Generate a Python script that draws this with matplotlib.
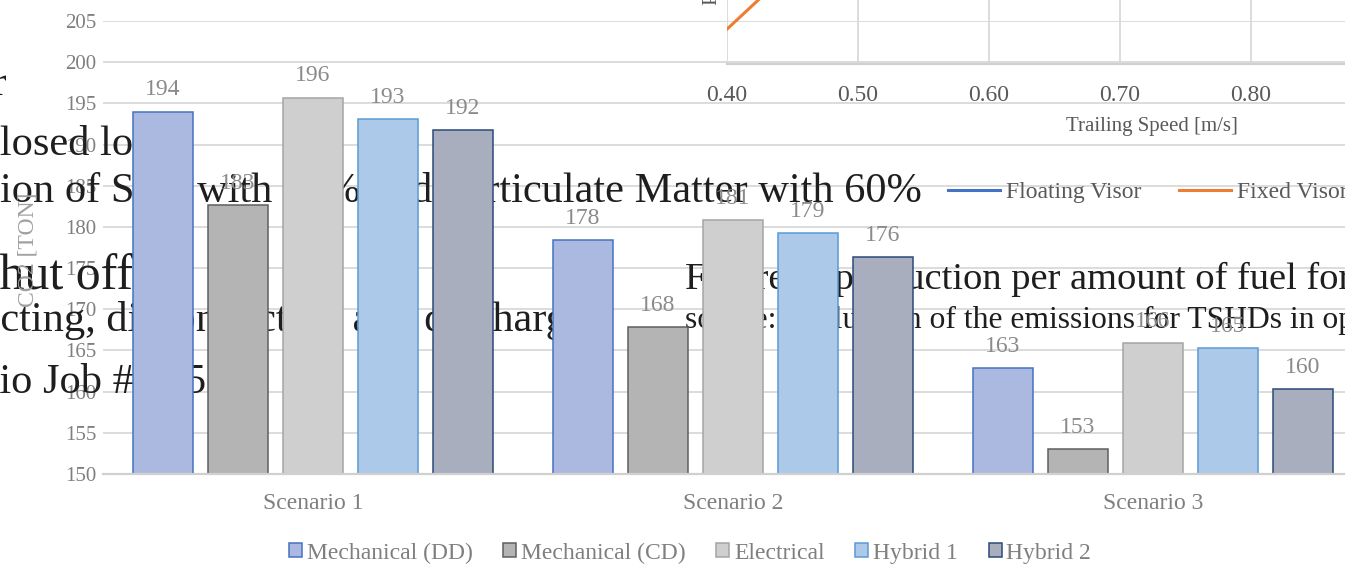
import matplotlib
matplotlib.use("Agg")
import matplotlib.pyplot as plt
from matplotlib.lines import Line2D

plt.rcParams['font.family'] = ['Liberation Serif', 'DejaVu Serif']

# ---- data -------------------------------------------------------------
categories = ['Scenario 1', 'Scenario 2', 'Scenario 3']
series_names = ['Mechanical (DD)', 'Mechanical (CD)', 'Electrical',
                'Hybrid 1', 'Hybrid 2']
mech_dd = [194.0, 178.4, 162.9]
mech_cd = [182.6, 167.8, 153.0]
electrical = [195.7, 180.8, 165.9]
hybrid_1 = [193.1, 179.3, 165.3]
hybrid_2 = [191.8, 176.3, 160.3]
yticks = [150, 155, 160, 165, 170, 175, 180, 185, 190, 195, 200, 205]

# trailing-speed chart (only its lower-left corner is in frame)
speed_ticks = [0.40, 0.50, 0.60, 0.70, 0.80]
fixed_speed = [0.40, 0.50]
fixed_prod = [0.81, 3.65]

fills = ['#abb9e1', '#b4b4b4', '#cfcfcf', '#adc9ea', '#a8aebe']
edges = ['#4472c4', '#5f5f5f', '#a5a5a5', '#5b9bd5', '#2c4a7c']

W, H = 1345, 564
fig = plt.figure(figsize=(W / 100, H / 100), dpi=100)


def fx(px):
    return px / W


def fy(py):
    return 1 - py / H


grey = '#7f7f7f'
dark = '#595959'
ink = '#1e1e1e'

# ---- main bar chart ---------------------------------------------------
ax = fig.add_axes([fx(103), fy(474), 1260 / W, (474 - 21) / H])
ax.set_axisbelow(True)
pitch, width = 75 / 420, 60 / 420
series = [mech_dd, mech_cd, electrical, hybrid_1, hybrid_2]
handles = []
for i, (vals, name) in enumerate(zip(series, series_names)):
    xs = [c + (i - 2) * pitch for c in range(len(categories))]
    bars = ax.bar(xs, [v - 150 for v in vals], width, bottom=150,
                  color=fills[i], edgecolor=edges[i], linewidth=1.1,
                  label=name, zorder=1)
    ax.bar_label(bars, labels=[f'{v:.0f}' for v in vals], padding=8,
                 fontsize=17, color='#8a8a8a', zorder=3)
    handles.append(bars)

ax.set_xlim(-0.5, 2.5)
ax.set_ylim(150, 205)
ax.set_yticks(yticks)
ax.set_xticks(range(len(categories)))
ax.set_xticklabels(categories)
ax.tick_params(axis='both', length=0, labelsize=15, labelcolor=grey)
ax.tick_params(axis='x', pad=14, labelsize=17)
ax.tick_params(axis='y', pad=5)
ax.grid(axis='y', color='#d9d9d9', lw=1.3)
for s in ['top', 'right', 'left']:
    ax.spines[s].set_visible(False)
ax.spines['bottom'].set_color('#d0d0d0')
ax.spines['bottom'].set_linewidth(1.6)
ax.patch.set_alpha(0)

fig.text(fx(28), fy(250), 'CO2 [TON]', rotation=90, ha='center',
         va='center', fontsize=17, color='#a0a0a0')

fig.legend(handles=handles, labels=series_names, loc='center',
           bbox_to_anchor=(fx(690), fy(553)), ncol=5, frameon=False,
           fontsize=17, labelcolor=grey, handlelength=0.55,
           handleheight=0.55, handletextpad=0.2, columnspacing=1.3,
           borderpad=0, borderaxespad=0)

# ---- body text running under the bars -----------------------------------
body = [
    (7, 95, 'for', 'right', 30.5),
    (-19, 155, 'closed loop', 'left', 30.5),
    (0, 202, 'ion of SOx with 90% and Particulate Matter with 60%', 'left', 30.5),
    (-20, 289, 'shut off', 'left', 36),
    (-101, 331, 'connecting, disconnecting and discharge', 'left', 30.5),
    (-116, 393, 'Scenario Job # 115', 'left', 30.5),
    (685, 289, 'Figure 5: production per amount of fuel for', 'left', 27.7),
    (685, 328, 'source: Evaluation of the emissions for TSHDs in operation',
     'left', 22.8),
]
for x, y, s, ha, size in body:
    ax.text(fx(x), fy(y), s, transform=fig.transFigure, ha=ha,
            va='baseline', fontsize=size, color=ink, zorder=0.9,
            clip_on=False)

# ---- trailing-speed chart ---------------------------------------------
ins = fig.add_axes([fx(727), fy(64), 655 / W, 258 / H])
ins.patch.set_alpha(0)
ins.plot(fixed_speed, fixed_prod, color='#ed7d31', lw=2.2)
ins.set_xlim(0.40, 0.90)
ins.set_ylim(0, 6)
ins.set_xticks(speed_ticks)
ins.set_xticklabels([f'{v:.2f}' for v in speed_ticks])
ins.set_yticks([1, 2, 3, 4, 5])
ins.tick_params(axis='y', left=False, labelleft=False)
ins.tick_params(axis='x', length=0, pad=15, labelsize=17, labelcolor=dark)
ins.grid(axis='x', color='#d9d9d9', lw=1.3)
for s in ['top', 'right', 'left']:
    ins.spines[s].set_visible(False)
ins.spines['bottom'].set_color('#d0d0d0')
ins.spines['bottom'].set_linewidth(1.6)

fig.text(fx(1152), fy(127), 'Trailing Speed [m/s]', ha='center',
         va='center', fontsize=15, color=dark)
fig.text(fx(712), fy(5), 'Production [m³/h]', rotation=90, ha='center',
         va='bottom', fontsize=15, color=dark)

visor = [Line2D([], [], color='#4472c4', lw=2.2),
         Line2D([], [], color='#ed7d31', lw=2.2)]
fig.legend(handles=visor, labels=['Floating Visor', 'Fixed Visor'],
           loc='center left', bbox_to_anchor=(fx(948), fy(192)), ncol=2,
           frameon=False, fontsize=17, labelcolor=dark, handlelength=2.2,
           handletextpad=0.25, columnspacing=1.6, borderpad=0,
           borderaxespad=0)

fig.savefig('out.png', dpi=100)
